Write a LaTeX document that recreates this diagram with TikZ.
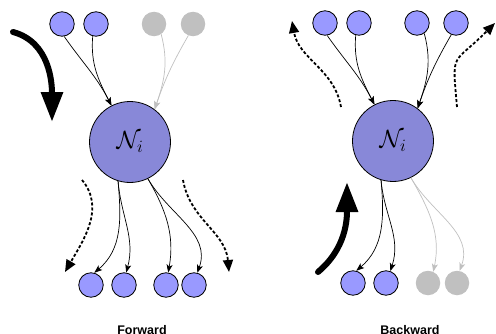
\documentclass[tikz,border=0pt]{standalone}
\usepackage{amsmath,amsfonts}
\usepackage{fontspec}
\usepackage{tikz}
\usetikzlibrary{arrows,arrows.meta}
\newfontfamily\panelfont{Liberation Sans}
\definecolor{nodeblue}{RGB}{153,153,255}
\definecolor{cellblue}{RGB}{136,136,216}
\definecolor{fadegray}{RGB}{192,192,192}

\begin{document}
\begin{tikzpicture} [x=1pt, y=1pt]

\tikzset{vertex/.style = {shape=circle,draw,fill=nodeblue,minimum size=24.5pt,inner sep=0pt,line width=0.8pt}}
\tikzset{ghost/.style = {shape=circle,fill=fadegray,minimum size=24.5pt,inner sep=0pt}}
\tikzset{neuron/.style = {shape=circle,draw,fill=cellblue,minimum size=81pt,inner sep=0pt,line width=0.8pt}}
\tikzset{edge/.style = {->,> = {Stealth[length=8pt,width=6pt,inset=2pt]}, line width=0.7pt}}
\tikzset{faded/.style = {edge, draw=fadegray}}
\tikzset{flow/.style = {-{Triangle[length=12pt,width=10pt]}, line width=1.8pt, dash pattern=on 3pt off 2pt}}
\tikzset{push/.style = {-{Triangle[length=30pt,width=21pt]}, line width=6pt, line cap=round}}
\useasboundingbox (0,0) rectangle (496,333);
% vertices, forward
\node[vertex] (s1) at (62,309) {};
\node[vertex] (s2) at (96,309) {};
\node[ghost] (g1) at (154,309) {};
\node[ghost] (g2) at (193,309) {};
\node[neuron] (N1) at (130,191) {\fontsize{23}{27}\selectfont$\mathcal{N}_i$};
\node[vertex] (b1) at (91,48) {};
\node[vertex] (b2) at (124,48) {};
\node[vertex] (b3) at (166,48) {};
\node[vertex] (b4) at (194,48) {};
% vertices, backward
\node[vertex] (t1) at (325,310) {};
\node[vertex] (t2) at (359,310) {};
\node[vertex] (t3) at (417,310) {};
\node[vertex] (t4) at (456,310) {};
\node[neuron] (N2) at (393,192) {\fontsize{23}{27}\selectfont$\mathcal{N}_i$};
\node[vertex] (c1) at (353,50) {};
\node[vertex] (c2) at (386,50) {};
\node[ghost] (c3) at (428,50) {};
\node[ghost] (c4) at (457,50) {};
% flow ends
\coordinate (fa1) at (82,153);
\coordinate (fa2) at (65,61);
\coordinate (fb1) at (183,153);
\coordinate (fb2) at (229,61);
\coordinate (fc1) at (341,226);
\coordinate (fc2) at (292,312);
\coordinate (fd1) at (457,226);
\coordinate (fd2) at (495,310);
\coordinate (ta1) at (13,301);
\coordinate (ta2) at (52,211);
\coordinate (tb1) at (318,61);
\coordinate (tb2) at (347,151);
%edges
\draw[edge] (s1.-80) to[out=-55,in=117] (N1.117);
\draw[edge] (s2.-105) to[out=-95,in=117] (N1.117);
\draw[faded] (g1.-55) to[out=-75,in=71] (N1.53);
\draw[faded] (g2.-112) to[out=-120,in=71] (N1.53);
\draw[edge] (N1.-107) to[out=-85,in=40] (b1.75);
\draw[edge] (N1.-107) to[out=-85,in=75] (b2.80);
\draw[edge] (N1.-64) to[out=-60,in=80] (b3.80);
\draw[edge] (N1.-64) to[out=-60,in=70] (b4.75);

\draw[edge] (t1.-80) to[out=-55,in=117] (N2.117);
\draw[edge] (t2.-105) to[out=-95,in=117] (N2.117);
\draw[edge] (t3.-55) to[out=-75,in=71] (N2.53);
\draw[edge] (t4.-112) to[out=-120,in=71] (N2.53);
\draw[edge] (N2.-107) to[out=-85,in=40] (c1.75);
\draw[edge] (N2.-107) to[out=-85,in=72] (c2.70);
\draw[faded] (N2.-64) to[out=-60,in=78] (c3.65);
\draw[faded] (N2.-64) to[out=-60,in=70] (c4.78);
% direction
\draw[flow] (fa1) to[out=-50,in=60] (fa2);
\draw[flow] (fb1) to[out=-80,in=95] (fb2);
\draw[flow] (fc1) to[out=100,in=-80] (fc2);
\draw[flow] (fd1) to[out=95,in=-135,out looseness=1.6,in looseness=1.7] (fd2);
\draw[push] (ta1) to[out=-15,in=90] (ta2);
\draw[push] (tb1) to[out=40,in=-90] (tb2);
% labels
\node[anchor=base] (fwd) at (142,-1) {\fontsize{12.5}{14}\panelfont\bfseries Forward};
\node[anchor=base] (bwd) at (410,-1) {\fontsize{12.5}{14}\panelfont\bfseries Backward};

\end{tikzpicture}
\end{document}
